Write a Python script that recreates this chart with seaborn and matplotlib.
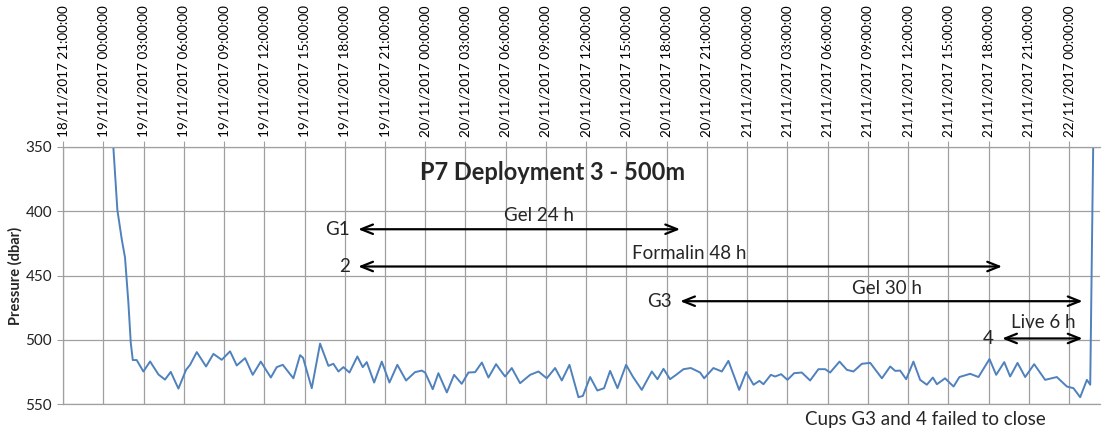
import matplotlib
matplotlib.use("Agg")
import matplotlib.pyplot as plt
import matplotlib.dates as mdates
import numpy as np
import pandas as pd
import seaborn as sns

# Pressure record from the P7 mooring, deployment 3 (500 m trap)
start_time = pd.Timestamp("2017-11-18 21:00")
elapsed_h = [
    3.75, 4.05, 4.38, 4.62, 4.87, 5.05, 5.20, 5.49, 5.99, 6.49, 7.11, 7.60,
    8.03, 8.60, 9.17, 9.47, 9.97, 10.66, 11.21, 11.83, 12.45, 12.95, 13.57,
    14.14, 14.74, 15.49, 15.93, 16.38, 17.17, 17.67, 17.89, 18.54, 19.16,
    19.78, 20.15, 20.53, 20.90, 21.35, 21.94, 22.34, 22.64, 23.19, 23.76,
    24.33, 24.92, 25.57, 26.24, 26.74, 26.99, 27.56, 27.98, 28.61, 29.15,
    29.72, 30.22, 30.72, 31.22, 31.71, 32.28, 32.58, 32.95, 33.45, 34.07,
    34.82, 35.44, 36.06, 36.68, 37.18, 37.75, 38.42, 38.75, 39.29, 39.83,
    40.33, 40.78, 41.33, 41.97, 42.47, 43.14, 43.89, 44.31, 44.76, 45.25,
    45.70, 46.25, 46.80, 47.49, 47.79, 48.48, 49.11, 49.60, 50.40, 50.92,
    51.47, 51.91, 52.21, 52.76, 53.08, 53.53, 54.00, 54.50, 55.07, 55.69,
    56.31, 56.81, 57.18, 57.88, 58.43, 58.92, 59.55, 60.17, 61.04, 61.66,
    62.03, 62.40, 62.85, 63.39, 63.89, 64.39, 64.84, 65.14, 65.75, 66.38,
    66.82, 67.62, 68.24, 69.06, 69.56, 70.16, 70.60, 71.15, 71.72, 72.39,
    73.21, 74.08, 74.83, 75.32, 75.82, 76.32, 76.57, 76.79,
]
pressure_dbar = [
    350, 399, 422, 436, 471, 502.5, 515.8, 515.8, 524.7, 516.9, 527, 531,
    525, 538, 523.4, 519.5, 509.6, 520.8, 511, 515.6, 509, 520, 514.3,
    527.3, 517, 529.4, 521.3, 519.5, 530, 512, 514, 537.7, 503,
    520.3, 518.7, 524.7, 521.3, 525.5, 513, 521.3, 517.4, 533.3, 517,
    533.3, 519.5, 531.7, 525.2, 524, 525.5, 538.5, 526, 541, 527.3,
    534.3, 525.5, 525.2, 517.7, 529.4, 519, 523.4, 528.6, 522, 533.8,
    527.3, 524.7, 530, 522, 531.7, 519.5, 544.7, 543.7, 529, 539.5,
    537.7, 524.2, 537.7, 519.5, 528.6, 539, 524.7, 530.7, 522.6, 530.7,
    527.3, 522.9, 522, 525.5, 530, 522, 524.7, 516.4, 539, 525.2,
    535, 532, 534.6, 527.3, 528.6, 526.8, 531.2, 526, 525.5, 531.7,
    522.9, 522.9, 525.5, 517, 523.4, 524.7, 518.7, 518, 530, 520.8,
    524.2, 524, 530.7, 517, 531.2, 535, 529.4, 534.6, 530, 536.4,
    529, 526.5, 529, 515, 527.3, 517.4, 528.6, 518, 529, 519,
    531.2, 529, 536.4, 537.7, 544.7, 531.2, 535, 350,
]

# Sample cups: open/close times and the treatment in each
cups = ["G1", "2", "G3", "4"]
treatments = ["Gel 24 h", "Formalin 48 h", "Gel 30 h", "Live 6 h"]
open_times = ["2017-11-19 19:00", "2017-11-19 19:00", "2017-11-20 19:00", "2017-11-21 19:00"]
close_times = ["2017-11-20 19:00", "2017-11-21 19:00", "2017-11-22 01:00", "2017-11-22 01:00"]

# Layout of the cup annotations (pressure level of each arrow, label centre time)
arrow_levels = [414, 443, 470, 499]
label_centres = ["2017-11-20 08:30", "2017-11-20 19:40", "2017-11-21 10:25", "2017-11-21 22:05"]
label_rise_pt = [10, 9.5, 9, 11.5]

df = pd.DataFrame({
    "time": start_time + pd.to_timedelta(elapsed_h, unit="h"),
    "pressure": pressure_dbar,
})

sns.set_style("white")
plt.rcParams["font.family"] = ["Lato", "DejaVu Sans"]

grid_col = "#A0A0A0"
fig = plt.figure(figsize=(11.04, 4.34), dpi=100)
ax = fig.add_axes([0.0571, 0.0691, 0.9393, 0.5922])

sns.lineplot(data=df, x="time", y="pressure", ax=ax, color="#4F81BD",
             linewidth=1.4, estimator=None)
for ln in ax.get_lines():
    ln.set_solid_joinstyle("round")

ax.set_ylim(550, 350)
ax.set_yticks([350, 400, 450, 500, 550])
ax.set_xlim(start_time, start_time + pd.Timedelta(hours=77.3))
ticks = pd.date_range("2017-11-18 21:00", "2017-11-22 00:00", freq="3h")
ax.set_xticks(ticks)
ax.xaxis.set_major_formatter(mdates.DateFormatter("%d/%m/%Y %H:%M:%S"))
ax.xaxis.tick_top()
ax.tick_params(axis="x", labelsize=9.7, length=4, color=grid_col, pad=3,
               labelcolor="black")
ax.tick_params(axis="y", labelsize=11, length=4, color=grid_col, pad=4,
               labelcolor="#222222", left=True)
plt.setp(ax.get_xticklabels(), rotation=90, ha="center", va="bottom")

ax.grid(True, color=grid_col, linewidth=0.9)
for side in ["top", "left", "bottom"]:
    ax.spines[side].set_color(grid_col)
    ax.spines[side].set_linewidth(0.9)
ax.spines["right"].set_visible(False)

ax.set_xlabel("")
ax.set_ylabel("Pressure (dbar)", fontsize=10.5, fontweight="bold", labelpad=2)

ax.text(0.4725, 0.899, "P7 Deployment 3 - 500m", transform=ax.transAxes,
        ha="center", va="center", fontsize=17, fontweight="bold")

for cup, treat, t_open, t_close, lev, lab_t, rise in zip(
        cups, treatments, open_times, close_times, arrow_levels,
        label_centres, label_rise_pt):
    t_open = pd.Timestamp(t_open)
    t_close = pd.Timestamp(t_close)
    ax.annotate("", xy=(t_close, lev), xytext=(t_open, lev),
                arrowprops=dict(arrowstyle="<->,head_length=0.85,head_width=0.34",
                                color="black", lw=1.6, shrinkA=0, shrinkB=0,
                                mutation_scale=10))
    ax.annotate(cup, xy=(t_open, lev), xytext=(-6, 0), textcoords="offset points",
                ha="right", va="center", fontsize=13.5)
    ax.annotate(treat, xy=(pd.Timestamp(lab_t), lev), xytext=(0, rise),
                textcoords="offset points", ha="center", va="center", fontsize=13.5)

ax.text(0.832, -0.062, "Cups G3 and 4 failed to close", transform=ax.transAxes,
        ha="center", va="center", fontsize=13.5, clip_on=False)

fig.savefig("out.png", dpi=100)
